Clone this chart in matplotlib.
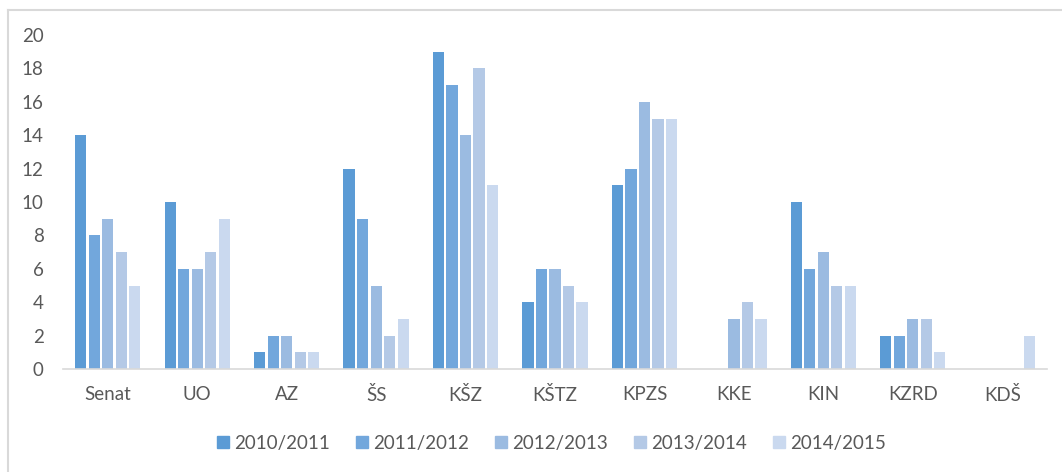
import matplotlib
matplotlib.use("Agg")
import matplotlib.pyplot as plt
from matplotlib.lines import Line2D
import numpy as np

categories = ["Senat", "UO", "AZ", "ŠS", "KŠZ", "KŠTZ", "KPZS", "KKE", "KIN", "KZRD", "KDŠ"]
series_names = ["2010/2011", "2011/2012", "2012/2013", "2013/2014", "2014/2015"]
s2010 = [14, 10, 1, 12, 19, 4, 11, 0, 10, 2, 0]
s2011 = [8, 6, 2, 9, 17, 6, 12, 0, 6, 2, 0]
s2012 = [9, 6, 2, 5, 14, 6, 16, 3, 7, 3, 0]
s2013 = [7, 7, 1, 2, 18, 5, 15, 4, 5, 3, 0]
s2014 = [5, 9, 1, 3, 11, 4, 15, 3, 5, 1, 2]
series = [s2010, s2011, s2012, s2013, s2014]
colors = ["#5B9BD5", "#72A7DC", "#9BBBE1", "#B4C9E6", "#CAD9EF"]
yticks = list(range(0, 21, 2))

plt.rcParams['font.family'] = ['Lato', 'DejaVu Sans']
fig = plt.figure(figsize=(10.62, 4.72), dpi=100)
W, H = 1062, 472
ax = fig.add_axes([63 / W, 1 - 369 / H, (1047 - 63) / W, (369 - 35) / H])

x = np.arange(len(categories))
slot = 0.151
bw = 0.125
for i, (vals, col, name) in enumerate(zip(series, colors, series_names)):
    off = (i - 2) * slot
    ax.bar(x + off, vals, width=bw, color=col, label=name, zorder=2)

ax.set_xlim(-0.5, len(categories) - 0.5)
ax.set_ylim(0, 20)
ax.set_yticks(yticks)
ax.set_xticks(x)
ax.set_xticklabels(categories)
for s in ["top", "right", "left"]:
    ax.spines[s].set_visible(False)
ax.spines["bottom"].set_color("#D9D9D9")
ax.spines["bottom"].set_linewidth(1.2)
ax.tick_params(axis="both", length=0, labelsize=13.5, colors="#595959")
ax.tick_params(axis="x", pad=12)
ax.tick_params(axis="y", pad=14)

handles = [Line2D([], [], marker="s", linestyle="none", markersize=8,
                  markerfacecolor=c, markeredgecolor=c) for c in colors]
fig.legend(handles, series_names, loc="center", bbox_to_anchor=(550 / W, 1 - 443 / H),
           ncol=5, frameon=False, fontsize=13.5, handletextpad=0.1, columnspacing=1.2,
           labelcolor="#595959", handlelength=1.0)

# chart border (top and left visible)
fig.add_artist(Line2D([8 / W, 8 / W], [0, 1 - 10 / H], transform=fig.transFigure,
                      color="#D9D9D9", linewidth=1.5))
fig.add_artist(Line2D([8 / W, 1], [1 - 10 / H, 1 - 10 / H], transform=fig.transFigure,
                      color="#D9D9D9", linewidth=1.5))

fig.savefig("out.png", dpi=100)
